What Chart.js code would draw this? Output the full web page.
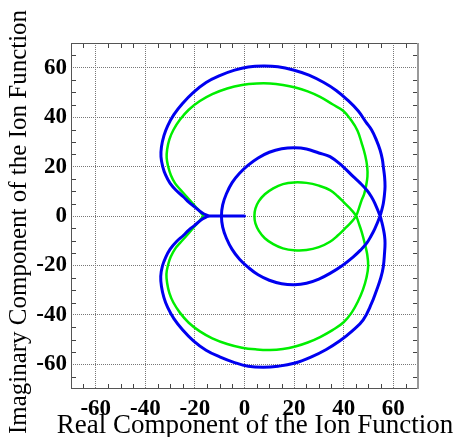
<!DOCTYPE html>
<html>
<head>
<meta charset="utf-8">
<script src="https://cdn.jsdelivr.net/npm/chart.js@4/dist/chart.umd.min.js"></script>
<style>
  body { margin: 0; background: #fff; }
  canvas { display: block; }
</style>
</head>
<body>
<canvas id="ionChart" width="458" height="437"></canvas>
<script>
// ===============================
// Data
// ===============================
const xTickValues = [-60, -40, -20, 0, 20, 40, 60];
const yTickValues = [-60, -40, -20, 0, 20, 40, 60];

// blue: straight piece on the real axis
const blueTailRe = [0, -14.6];
const blueTailIm = [0, 0];

// blue: cusp -> upper outer -> lower inner -> upper inner -> lower outer -> cusp
const blueLoopRe = [
  -14.6, -17, -20, -22.5, -24.7, -27.5, -30, -31.8, -33, -33.7, -33.5, -32.5, -31, -28.5, -25,
  -20.6, -15.5, -10, -4, 1.5, 7.6, 13.5, 19.7, 26, 32, 37, 41.5, 45.9, 49, 51.3,
  53.3, 54.7, 55.6, 56, 56.5, 56.7, 56.4, 56, 55.4, 54.7,
  52.6, 51, 49.3, 46.8, 43.9, 39.5, 34.5, 30, 25, 20.2, 15, 10, 5.5, 1.5, -2, -5, -7.3, -8.8, -9.3,
  -8.8, -7.3, -5, -2, 1.5, 5.5, 10, 15, 20.3, 25, 30, 34.5, 39.5, 43.9, 46.8, 49.3, 51.2, 52.6, 54.7,
  55.4, 56, 56.5, 56.7, 56.5, 56, 55, 53.3, 51.2, 47.9, 43.5, 38.5, 33, 27, 20, 13.5, 7.6, 1.5,
  -4, -10, -15.5, -20.6, -25, -28.5, -31, -32.5, -33.5, -33.8, -33.1, -31.8, -30, -27.5, -24.7,
  -22.5, -20, -17, -14.6
];
const blueLoopIm = [
  0, 1.2, 3.6, 5.6, 7.8, 10.3, 13.2, 16.5, 20, 24, 28, 32.5, 36.5, 41, 45.5,
  50, 54, 56.8, 59, 60.3, 60.7, 60.4, 59.1, 57, 54, 50.8, 47, 42.5, 38, 34.8,
  30.5, 26.7, 23, 20, 16, 11.9, 8, 5.1, 2.5, 0,
  -5.1, -8.2, -11, -13.8, -16.5, -20, -23.2, -25.5, -27.2, -27.8, -27.4, -26, -23.8, -20.8, -17.5, -13.5, -9, -4.5, 0,
  4.5, 9, 13.5, 17.3, 20.6, 23.5, 25.8, 27.2, 27.6, 27.1, 25.5, 24, 20.2, 15.9, 13.2, 10.5, 7.8, 5.1, 0,
  -2.5, -5.1, -8, -11, -15, -20.5, -25, -30, -35.5, -42, -46.5, -50.5, -54, -57, -59.6, -60.8, -61.2, -60.8,
  -59.3, -57, -54.3, -50.5, -46, -41.5, -37, -33, -28.5, -24.4, -20.2, -16.7, -13.4, -10.4, -7.9,
  -5.7, -3.7, -1.2, 0
];

// green: cusp -> upper outer -> lower inner -> upper inner -> lower outer -> cusp
const greenLoopRe = [
  -16.5, -18, -20, -23.3, -26, -28, -29.7, -30.8, -31.4, -31.2, -30.3, -28.7, -26, -22.5, -18,
  -13, -7, -1, 5, 10.3, 15.5, 20.5, 25.5, 30.5, 35.5, 39.9, 43.2, 45.6, 47.3, 48.7,
  49.5, 49.6, 49, 48.3, 47.3, 46.2, 45,
  43, 40.5, 37.6, 34.5, 30, 25, 20, 15.5, 11.6, 8.2, 5.8, 4.4, 4,
  4.4, 5.8, 8.2, 11.6, 15.5, 20, 25, 30, 34.5, 37.6, 40.5, 43, 45,
  46.2, 47.3, 48.5, 49.5, 49.9, 49.2, 47.8, 45.8, 43.3, 40, 35.5, 30.5, 25.5, 20.5, 15.5, 10.3,
  5, -1, -7, -13, -18, -22.5, -26, -28.7, -30.3, -31.2, -31.5, -30.9, -29.8, -28, -26,
  -23.3, -20, -18, -16.5
];
const greenLoopIm = [
  0, 1.8, 4, 7.8, 10.8, 13.2, 16.5, 20, 23.5, 27, 31, 34.8, 39, 43, 46.5,
  49.3, 51.6, 53, 53.6, 53.6, 53, 52, 50.4, 48.2, 45.2, 42.5, 38.5, 34.5, 29.4, 24.5,
  20, 16, 11.9, 9, 6.5, 3.2, 0,
  -2.6, -5.1, -7.9, -10.4, -12.6, -13.8, -13.9, -13.1, -11.4, -9, -6, -3, 0,
  3, 6, 8.8, 11.2, 12.9, 13.6, 13.4, 12.3, 10.5, 8, 5.1, 2.6, 0,
  -3.2, -6.5, -11, -15.5, -20.3, -25, -29.8, -34.5, -39, -43, -46.2, -49, -51.2, -52.8, -53.8, -54.2,
  -54, -53.3, -51.8, -49.5, -46.7, -43.2, -39.2, -35, -31.2, -27.2, -23.5, -20, -16.6, -13.3, -10.9,
  -7.9, -4, -1.8, 0
];

// ===============================
// Helpers
// ===============================
function toPoints(re, im) {
  return re.map((x, i) => ({ x: x, y: im[i] }));
}

const serif = "'Liberation Serif', 'Times New Roman', serif";

// frame, inward minor ticks and axis titles
const framePlugin = {
  id: "frame",
  beforeDatasetsDraw(chart) {
    const { ctx, chartArea: a, scales } = chart;
    ctx.save();
    ctx.strokeStyle = "#444";
    ctx.lineWidth = 1;
    ctx.beginPath();
    for (let v = -65; v <= 65; v += 5) {
      if (v % 20 === 0) continue;
      const px = Math.round(scales.x.getPixelForValue(v)) + 0.5;
      ctx.moveTo(px, a.bottom); ctx.lineTo(px, a.bottom - 5);
      ctx.moveTo(px, a.top); ctx.lineTo(px, a.top + 5);
      const py = Math.round(scales.y.getPixelForValue(v)) + 0.5;
      ctx.moveTo(a.left, py); ctx.lineTo(a.left + 5, py);
      ctx.moveTo(a.right, py); ctx.lineTo(a.right - 5, py);
    }
    ctx.stroke();

    ctx.strokeStyle = "#555";
    ctx.strokeRect(a.left + 0.5, a.top + 0.5, a.right - a.left - 1, a.bottom - a.top - 1);
    ctx.strokeStyle = "#999";
    ctx.lineWidth = 2;
    ctx.beginPath();
    ctx.moveTo(a.right, a.top); ctx.lineTo(a.right, a.bottom);
    ctx.stroke();
    ctx.restore();
  },
  afterDraw(chart) {
    const { ctx } = chart;
    ctx.save();
    ctx.fillStyle = "#000";
    ctx.textAlign = "center";
    ctx.textBaseline = "alphabetic";
    ctx.font = "27px " + serif;
    ctx.fillText("Real Component of the Ion Function", 255, 433);
    ctx.font = "25px " + serif;
    ctx.translate(26, 222);
    ctx.rotate(-Math.PI / 2);
    ctx.fillText("Imaginary Component of the Ion Function", 0, 0);
    ctx.restore();
  }
};

const tickFont = { family: serif, size: 23, weight: "bold" };

function curve(re, im, color, width, tension) {
  return {
    data: toPoints(re, im),
    borderColor: color,
    borderWidth: width,
    tension: tension,
    borderCapStyle: "round",
    borderJoinStyle: "round",
    pointRadius: 0,
    fill: false
  };
}

// ===============================
// Chart
// ===============================
new Chart(document.getElementById("ionChart"), {
  type: "line",
  data: {
    datasets: [
      curve(blueTailRe, blueTailIm, "#0000f0", 3, 0),
      curve(blueLoopRe, blueLoopIm, "#0000f0", 3, 0.4),
      curve(greenLoopRe, greenLoopIm, "#00ee00", 2.5, 0.4)
    ]
  },
  options: {
    responsive: false,
    animation: false,
    devicePixelRatio: 1,
    layout: { padding: { top: 43, right: 40, left: 0, bottom: 0 } },
    plugins: {
      legend: { display: false },
      tooltip: { enabled: false }
    },
    scales: {
      x: {
        type: "linear",
        min: -70,
        max: 70,
        afterBuildTicks: s => { s.ticks = xTickValues.map(v => ({ value: v })); },
        afterFit: s => { s.height = 48; },
        ticks: {
          font: tickFont,
          color: "#000",
          padding: 6,
          maxRotation: 0,
          autoSkip: false,
          callback: v => String(v)
        },
        grid: { color: "#777", lineWidth: 1, drawTicks: false },
        border: { display: false, dash: [1, 1] }
      },
      y: {
        type: "linear",
        min: -70,
        max: 70,
        afterBuildTicks: s => { s.ticks = yTickValues.map(v => ({ value: v })); },
        afterFit: s => { s.width = 71; },
        ticks: {
          font: tickFont,
          color: "#000",
          padding: 4,
          autoSkip: false,
          callback: v => String(v)
        },
        grid: { color: "#777", lineWidth: 1, drawTicks: false },
        border: { display: false, dash: [1, 1] }
      }
    }
  },
  plugins: [framePlugin]
});
</script>
</body>
</html>
